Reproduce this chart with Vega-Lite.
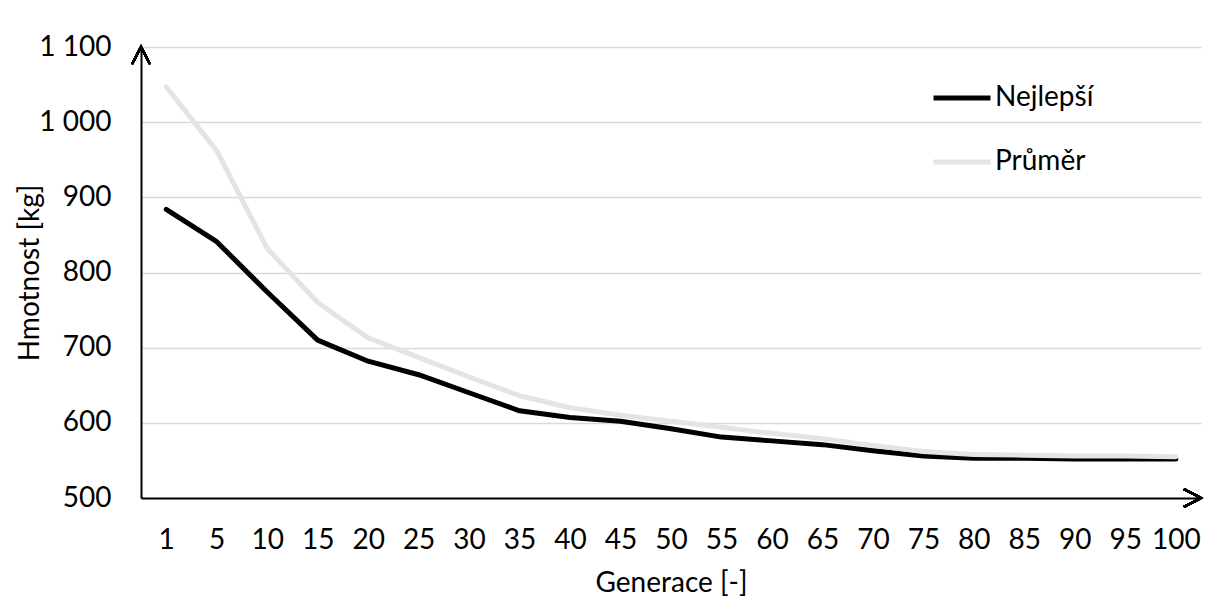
{
  "$schema": "https://vega.github.io/schema/vega-lite/v6.json",
  "width": 1060,
  "height": 451,
  "autosize": "none",
  "padding": {"left": 141, "top": 47, "right": 6, "bottom": 110},
  "background": "white",
  "config": {
    "font": "Lato",
    "view": {"stroke": null},
    "axis": {"labelColor": "black", "titleColor": "black", "titleFontWeight": "normal", "labelFont": "Lato", "titleFont": "Lato"}
  },
  "data": {
    "values": [
      {"gen": "1", "serie": "Nejlepší", "hmotnost": 884},
      {"gen": "5", "serie": "Nejlepší", "hmotnost": 841},
      {"gen": "10", "serie": "Nejlepší", "hmotnost": 774},
      {"gen": "15", "serie": "Nejlepší", "hmotnost": 710},
      {"gen": "20", "serie": "Nejlepší", "hmotnost": 682},
      {"gen": "25", "serie": "Nejlepší", "hmotnost": 664},
      {"gen": "30", "serie": "Nejlepší", "hmotnost": 640},
      {"gen": "35", "serie": "Nejlepší", "hmotnost": 616},
      {"gen": "40", "serie": "Nejlepší", "hmotnost": 607},
      {"gen": "45", "serie": "Nejlepší", "hmotnost": 602},
      {"gen": "50", "serie": "Nejlepší", "hmotnost": 592},
      {"gen": "55", "serie": "Nejlepší", "hmotnost": 581},
      {"gen": "60", "serie": "Nejlepší", "hmotnost": 576},
      {"gen": "65", "serie": "Nejlepší", "hmotnost": 571},
      {"gen": "70", "serie": "Nejlepší", "hmotnost": 563},
      {"gen": "75", "serie": "Nejlepší", "hmotnost": 556},
      {"gen": "80", "serie": "Nejlepší", "hmotnost": 553},
      {"gen": "85", "serie": "Nejlepší", "hmotnost": 553},
      {"gen": "90", "serie": "Nejlepší", "hmotnost": 552},
      {"gen": "95", "serie": "Nejlepší", "hmotnost": 552},
      {"gen": "100", "serie": "Nejlepší", "hmotnost": 552},
      {"gen": "1", "serie": "Průměr", "hmotnost": 1047},
      {"gen": "5", "serie": "Průměr", "hmotnost": 962},
      {"gen": "10", "serie": "Průměr", "hmotnost": 832},
      {"gen": "15", "serie": "Průměr", "hmotnost": 760},
      {"gen": "20", "serie": "Průměr", "hmotnost": 713},
      {"gen": "25", "serie": "Průměr", "hmotnost": 687},
      {"gen": "30", "serie": "Průměr", "hmotnost": 661},
      {"gen": "35", "serie": "Průměr", "hmotnost": 636},
      {"gen": "40", "serie": "Průměr", "hmotnost": 620},
      {"gen": "45", "serie": "Průměr", "hmotnost": 610},
      {"gen": "50", "serie": "Průměr", "hmotnost": 602},
      {"gen": "55", "serie": "Průměr", "hmotnost": 594},
      {"gen": "60", "serie": "Průměr", "hmotnost": 586},
      {"gen": "65", "serie": "Průměr", "hmotnost": 579},
      {"gen": "70", "serie": "Průměr", "hmotnost": 570},
      {"gen": "75", "serie": "Průměr", "hmotnost": 562},
      {"gen": "80", "serie": "Průměr", "hmotnost": 558},
      {"gen": "85", "serie": "Průměr", "hmotnost": 557},
      {"gen": "90", "serie": "Průměr", "hmotnost": 556},
      {"gen": "95", "serie": "Průměr", "hmotnost": 556},
      {"gen": "100", "serie": "Průměr", "hmotnost": 555}
    ]
  },
  "layer": [
    {
      "mark": {"type": "line", "strokeWidth": 5, "strokeCap": "round", "strokeJoin": "round"},
      "encoding": {
        "x": {
          "field": "gen", "type": "ordinal", "sort": null,
          "scale": {"type": "point", "padding": 0.5},
          "axis": {
            "title": "Generace [-]", "titleFontSize": 28, "titlePadding": 15,
            "labelAngle": 0, "labelFontSize": 28, "labelPadding": 28,
            "ticks": false, "grid": false,
            "domainColor": "black", "domainWidth": 2
          }
        },
        "y": {
          "field": "hmotnost", "type": "quantitative",
          "scale": {"domain": [500, 1100], "nice": false, "zero": false},
          "axis": {
            "title": "Hmotnost [kg]", "titleFontSize": 28, "titlePadding": -6,
            "values": [500, 600, 700, 800, 900, 1000, 1100],
            "labelExpr": "replace(format(datum.value, ','), ',', ' ')",
            "labelFontSize": 28, "labelPadding": 30,
            "ticks": false, "grid": true, "gridColor": "#d9d9d9", "gridWidth": 1.3,
            "domainColor": "black", "domainWidth": 2
          }
        },
        "color": {
          "field": "serie", "type": "nominal",
          "scale": {"domain": ["Nejlepší", "Průměr"], "range": ["#000000", "#e4e4e4"]},
          "legend": {
            "title": null, "orient": "none", "legendX": 790, "legendY": 20,
            "direction": "vertical",
            "symbolType": "stroke", "symbolSize": 3249, "symbolStrokeWidth": 5,
            "labelFontSize": 28, "labelColor": "black", "labelOffset": 2, "rowPadding": 19
          }
        }
      }
    },
    {
      "mark": {"type": "point", "shape": "M-1,1.9L0,0L1,1.9", "filled": false, "stroke": "black", "strokeWidth": 2, "size": 324, "opacity": 1, "clip": false},
      "encoding": {
        "x": {"value": 0},
        "y": {"datum": 1100}
      }
    },
    {
      "mark": {"type": "point", "shape": "M-1.9,-1L0,0L-1.9,1", "filled": false, "stroke": "black", "strokeWidth": 2, "size": 324, "opacity": 1, "clip": false},
      "encoding": {
        "x": {"value": "width"},
        "y": {"datum": 500}
      }
    }
  ]
}
